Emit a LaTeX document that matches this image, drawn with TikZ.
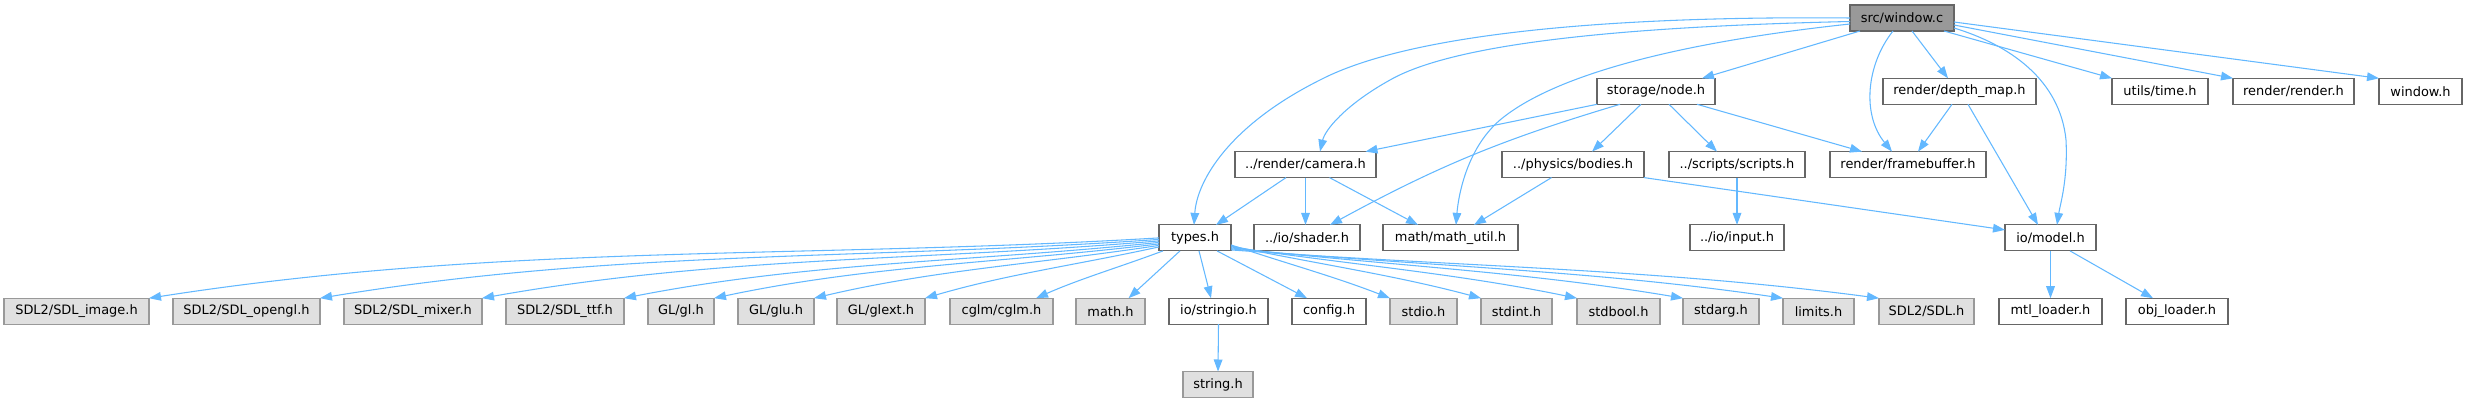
\documentclass[tikz,border=0pt]{standalone}
\usepackage{fontspec}
\setmainfont{DejaVu Sans}
\usetikzlibrary{arrows.meta,calc}
\definecolor{edgeblue}{HTML}{63B8FF}
\definecolor{boxline}{HTML}{666666}
\definecolor{extfill}{HTML}{E0E0E0}
\definecolor{extline}{HTML}{999999}
\definecolor{rootfill}{HTML}{999999}
\newcommand\mkbox[6]{\node[#1, minimum width={(#4-#3)*0.75pt}] (#2) at ({(#3+#4)/2},#5) {#6};}
\newcommand\cedge[3]{\draw[depline] (#1) .. controls ($(#1)!0.35!(#2)$) and ($(#2)!0.35!(#1)+(0,-#3)$) .. (#2);}
\begin{document}
\begin{tikzpicture}[x=0.75pt,y=-0.75pt,
  hdrbox/.style={draw=boxline, fill=white, line width=0.8pt, minimum height=19.5pt, inner sep=0pt, outer sep=0pt, font=\fontsize{9.7}{11}\selectfont, text=black},
  extbox/.style={hdrbox, draw=extline, fill=extfill},
  rootbox/.style={hdrbox, draw=boxline, fill=rootfill},
  depline/.style={draw=edgeblue, line width=0.8pt, -{Triangle[length=9pt,width=6.5pt]}}]
\useasboundingbox (0,0) rectangle (2467,403);
% row 0
\mkbox{rootbox}{win}{1850}{1954}{18}{src/window.c}
% row 1
\mkbox{hdrbox}{storage}{1597}{1715}{91.3}{storage/node.h}
\mkbox{hdrbox}{depth}{1883}{2036}{91.3}{render/depth\_map.h}
\mkbox{hdrbox}{time}{2112}{2208}{91.3}{utils/time.h}
\mkbox{hdrbox}{render}{2233}{2354}{91.3}{render/render.h}
\mkbox{hdrbox}{winh}{2379}{2462}{91.3}{window.h}
% row 2
\mkbox{hdrbox}{camera}{1235}{1376}{164.6}{../render/camera.h}
\mkbox{hdrbox}{bodies}{1502}{1644}{164.6}{../physics/bodies.h}
\mkbox{hdrbox}{scripts}{1669}{1805}{164.6}{../scripts/scripts.h}
\mkbox{hdrbox}{fb}{1830}{1986}{164.6}{render/framebuffer.h}
% row 3
\mkbox{hdrbox}{types}{1159}{1231}{237.9}{types.h}
\mkbox{hdrbox}{shader}{1254}{1360}{237.9}{../io/shader.h}
\mkbox{hdrbox}{mathu}{1383}{1518}{237.9}{math/math\_util.h}
\mkbox{hdrbox}{input}{1690}{1784}{237.9}{../io/input.h}
\mkbox{hdrbox}{model}{2005}{2096}{237.9}{io/model.h}
% row 4
\mkbox{extbox}{sdlimg}{4}{149}{311.2}{SDL2/SDL\_image.h}
\mkbox{extbox}{opengl}{173}{320}{311.2}{SDL2/SDL\_opengl.h}
\mkbox{extbox}{mixer}{344}{482}{311.2}{SDL2/SDL\_mixer.h}
\mkbox{extbox}{ttf}{506}{624}{311.2}{SDL2/SDL\_ttf.h}
\mkbox{extbox}{gl}{648}{714}{311.2}{GL/gl.h}
\mkbox{extbox}{glu}{738}{814}{311.2}{GL/glu.h}
\mkbox{extbox}{glext}{837}{925}{311.2}{GL/glext.h}
\mkbox{extbox}{cglm}{950}{1053}{311.2}{cglm/cglm.h}
\mkbox{extbox}{mathh}{1076}{1145}{311.2}{math.h}
\mkbox{hdrbox}{stringio}{1169}{1268}{311.2}{io/stringio.h}
\mkbox{hdrbox}{config}{1292}{1366}{311.2}{config.h}
\mkbox{extbox}{stdio}{1390}{1457}{311.2}{stdio.h}
\mkbox{extbox}{stdint}{1481}{1552}{311.2}{stdint.h}
\mkbox{extbox}{stdbool}{1577}{1660}{311.2}{stdbool.h}
\mkbox{extbox}{stdarg}{1683}{1759}{311.2}{stdarg.h}
\mkbox{extbox}{limits}{1783}{1854}{311.2}{limits.h}
\mkbox{extbox}{sdl}{1879}{1974}{311.2}{SDL2/SDL.h}
\mkbox{hdrbox}{mtl}{1999}{2102}{311.2}{mtl\_loader.h}
\mkbox{hdrbox}{obj}{2126}{2228}{311.2}{obj\_loader.h}
% row 5
\mkbox{extbox}{string}{1183}{1253}{384.5}{string.h}

% edges from src/window.c
\draw[depline] (win.west) .. controls (1650,16) and (1420,28) .. (1320,80) .. controls (1230,125) and (1197,180) .. ($(types.north)+(-1,0)$);
\draw[depline] ($(win.west)+(0,3.5)$) .. controls (1650,26) and (1460,40) .. (1390,80) .. controls (1345,105) and (1325,130) .. ($(camera.north)+(14.5,0)$);
\draw[depline] ($(win.west)+(0,6)$) .. controls (1700,40) and (1560,70) .. (1500,120) .. controls (1465,150) and (1458,200) .. ($(mathu.north)+(5.5,0)$);
\draw[depline] ($(win.south)+(-42,0)$) -- ($(storage.north)+(46,0)$);
\draw[depline] ($(win.south)+(-9,0)$) .. controls (1866,65) and (1862,115) .. ($(fb.north)+(-16,0)$);
\draw[depline] ($(win.south)+(10,0)$) -- ($(depth.north)+(-11.5,0)$);
\draw[depline] ($(win.east)+(0,10)$) .. controls (2010,45) and (2060,80) .. (2066,140) .. controls (2068,180) and (2060,205) .. ($(model.north)+(6.5,0)$);
\draw[depline] ($(win.south)+(42,0)$) -- (time.north west);
\draw[depline] ($(win.east)+(0,7)$) -- (render.north west);
\draw[depline] ($(win.east)+(0,4)$) -- (winh.north west);
% storage/node.h
\draw[depline] (storage.south west) -- ($(camera.north)+(60,0)$);
\draw[depline] ($(storage.south)+(-36,0)$) to[bend right=6] ($(shader.north)+(23,0)$);
\draw[depline] ($(storage.south)+(-15,0)$) -- ($(bodies.north)+(19,0)$);
\draw[depline] ($(storage.south)+(13,0)$) -- ($(scripts.north)+(-20,0)$);
\draw[depline] ($(storage.south)+(41,0)$) -- ($(fb.north)+(-46,0)$);
% render/depth_map.h
\draw[depline] ($(depth.south)+(-7.5,0)$) -- ($(fb.north)+(10,0)$);
\draw[depline] ($(depth.south)+(8.5,0)$) -- ($(model.north)+(-12.5,0)$);
% camera
\draw[depline] ($(camera.south)+(-19.5,0)$) -- ($(types.north)+(21,0)$);
\draw[depline] (camera.south) -- ($(shader.north)+(-1.5,0)$);
\draw[depline] ($(camera.south)+(24,0)$) -- ($(mathu.north)+(-32.5,0)$);
% bodies
\draw[depline] ($(bodies.south)+(-21.5,0)$) -- ($(mathu.north)+(23.5,0)$);
\draw[depline] (bodies.south east) -- ($(model.west)+(0,-8)$);
% scripts
\draw[depline] (scripts.south) -- (input.north);
% types.h
\coordinate (tl0) at (types.west);
\coordinate (tl1) at ($(types.west)+(0,1.5)$);
\coordinate (tl2) at ($(types.west)+(0,3)$);
\coordinate (tl3) at ($(types.west)+(0,4.5)$);
\coordinate (tl4) at ($(types.west)+(0,6)$);
\coordinate (tl5) at ($(types.west)+(0,7.5)$);
\coordinate (tl6) at ($(types.west)+(0,9)$);
\coordinate (tl7) at ($(types.south west)+(4,0)$);
\coordinate (cg) at ($(cglm.north east)+(-17,0)$);
\cedge{tl0}{sdlimg.north east}{34}
\cedge{tl1}{opengl.north east}{28}
\cedge{tl2}{mixer.north east}{22}
\cedge{tl3}{ttf.north east}{17}
\cedge{tl4}{gl.north east}{14}
\cedge{tl5}{glu.north east}{10}
\cedge{tl6}{glext.north east}{6}
\cedge{tl7}{cg}{3}
\draw[depline] ($(types.south)+(-15,0)$) -- ($(mathh.north)+(18,0)$);
\draw[depline] ($(types.south)+(4,0)$) -- ($(stringio.north)+(-7.5,0)$);
\draw[depline] ($(types.south)+(22,0)$) -- ($(config.north)+(-22,0)$);
\coordinate (tr0) at ($(types.east)+(0,7)$);
\coordinate (tr1) at ($(types.east)+(0,8)$);
\coordinate (tr2) at ($(types.east)+(0,9)$);
\coordinate (tr3) at ($(types.east)+(0,10)$);
\coordinate (tr4) at ($(types.east)+(0,11)$);
\coordinate (tr5) at ($(types.east)+(0,12)$);
\cedge{tr0}{stdio.north west}{3}
\cedge{tr1}{stdint.north west}{5}
\cedge{tr2}{stdbool.north west}{7}
\cedge{tr3}{stdarg.north west}{9}
\cedge{tr4}{limits.north west}{11}
\cedge{tr5}{sdl.north west}{13}
% others
\draw[depline] (stringio.south) -- (string.north);
\draw[depline] (model.south) -- (mtl.north);
\draw[depline] ($(model.south)+(19.5,0)$) -- ($(obj.north)+(-24,0)$);
\end{tikzpicture}
\end{document}
